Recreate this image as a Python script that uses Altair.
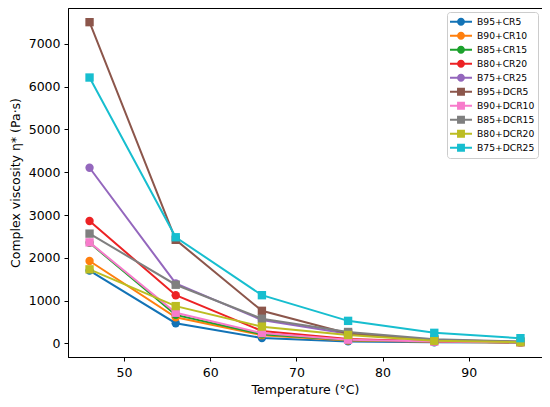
import altair as alt
import pandas as pd

temps = [46, 56, 66, 76, 86, 96]
series = ["B95+CR5", "B90+CR10", "B85+CR15", "B80+CR20", "B75+CR25",
          "B95+DCR5", "B90+DCR10", "B85+DCR15", "B80+DCR20", "B75+DCR25"]
values = {
    "B95+CR5":   [1700, 470, 125, 45, 25, 15],
    "B90+CR10":  [1925, 610, 190, 65, 35, 20],
    "B85+CR15":  [2350, 665, 210, 75, 40, 25],
    "B80+CR20":  [2860, 1125, 290, 100, 45, 25],
    "B75+CR25":  [4105, 1400, 545, 225, 70, 30],
    "B95+DCR5":  [7510, 2420, 760, 230, 80, 35],
    "B90+DCR10": [2360, 715, 240, 85, 40, 20],
    "B85+DCR15": [2565, 1370, 575, 265, 95, 40],
    "B80+DCR20": [1730, 870, 390, 195, 60, 25],
    "B75+DCR25": [6215, 2480, 1125, 525, 245, 120],
}
colors = ["#1373b6", "#ff7f0e", "#1ca12c", "#ec2224", "#9467bd",
          "#8c564b", "#f77bcb", "#7f7f7f", "#bcbd22", "#17becf"]
marker_kind = ["circle"] * 5 + ["square"] * 5

rows = []
for s in series:
    for t, v in zip(temps, values[s]):
        rows.append({"series": s, "temp": t, "visc": v})
df = pd.DataFrame(rows)

LINE = "M-1,-0.085 L1,-0.085 L1,0.085 L-1,0.085 Z"
CIRC = "M0.36,0 A0.36,0.36 0 1,1 -0.36,0 A0.36,0.36 0 1,1 0.36,0 Z"
SQR = "M-0.36,-0.36 L0.36,-0.36 L0.36,0.36 L-0.36,0.36 Z"
legend_shapes = [(LINE + " " + (CIRC if k == "circle" else SQR)) for k in marker_kind]

xs = alt.X("temp:Q", title="Temperature (°C)",
           scale=alt.Scale(domain=[43.5, 98.5], nice=False, zero=False),
           axis=alt.Axis(values=[50, 60, 70, 80, 90], grid=False))
ys = alt.Y("visc:Q", title="Complex viscosity η* (Pa·s)",
           scale=alt.Scale(domain=[-320, 7841], nice=False, zero=False),
           axis=alt.Axis(values=[0, 1000, 2000, 3000, 4000, 5000, 6000, 7000],
                         format="d", grid=False))

col = alt.Color("series:N", sort=series, scale=alt.Scale(domain=series, range=colors), legend=None)

base = alt.Chart(df)
lines = base.mark_line(strokeWidth=2).encode(x=xs, y=ys, color=col, detail="series:N")
points = base.mark_point(filled=True, opacity=1, size=70).encode(
    x=xs, y=ys, color=col,
    shape=alt.Shape("series:N", sort=series,
                    scale=alt.Scale(domain=series, range=marker_kind), legend=None),
)
legend_layer = base.mark_point(filled=True, opacity=0).encode(
    x=xs, y=ys,
    color=alt.Color("series:N", sort=series, scale=alt.Scale(domain=series, range=colors),
                    legend=alt.Legend(title=None)),
    shape=alt.Shape("series:N", sort=series,
                    scale=alt.Scale(domain=series, range=legend_shapes),
                    legend=alt.Legend(title=None)),
)

chart = alt.layer(lines, points, legend_layer).resolve_scale(
    color="independent", shape="independent"
).properties(
    width=474, height=349,
    autosize=alt.AutoSizeParams(type="none"),
    padding={"left": 60, "top": 0, "right": 0, "bottom": 40},
).configure_view(stroke="black", strokeWidth=1).configure_axis(
    labelFont="DejaVu Sans", titleFont="DejaVu Sans", labelFontSize=12.5, titleFontSize=12.5,
    labelColor="black", titleColor="black", titleFontWeight="normal",
    domainColor="black", tickColor="black", tickSize=4, labelPadding=4,
).configure_axisY(titlePadding=6).configure_axisX(titlePadding=5, labelPadding=5).configure_legend(
    orient="top-right", offset=4, labelFont="DejaVu Sans", labelFontSize=9.2,
    labelColor="black", symbolSize=484, symbolOpacity=1, symbolStrokeWidth=0,
    strokeColor="#cccccc", fillColor="white", padding=3, cornerRadius=3,
    rowPadding=0, labelOffset=5, clipHeight=13.4,
)

chart.save("out.html", embed_options={"renderer": "svg", "actions": False})
